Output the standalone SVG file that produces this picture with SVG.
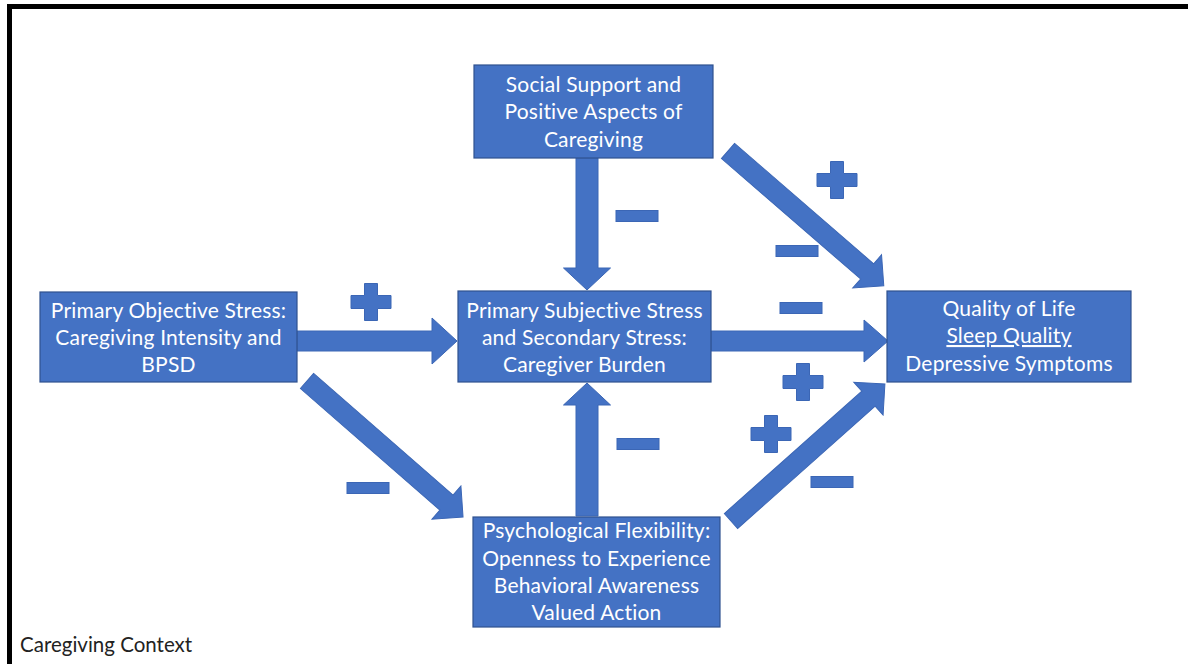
<svg xmlns="http://www.w3.org/2000/svg" width="1188" height="664" viewBox="0 0 1188 664">
  <style>
    .box { fill: #4472C4; stroke: #2F528F; stroke-width: 1.2; }
    .arrow { fill: #4472C4; stroke: #3B66B5; stroke-width: 1; }
    .sign { fill: #4472C4; stroke: #3B66B5; stroke-width: 1; }
    .lbl { font-family: Lato, "Open Sans", "Liberation Sans", sans-serif; font-size: 21px; letter-spacing: 0.2px; fill: #FFFFFF; text-anchor: middle; font-variant-ligatures: none; }
    .ctx { font-family: Lato, "Open Sans", "Liberation Sans", sans-serif; font-size: 20.5px; fill: #222222; font-variant-ligatures: none; }
  </style>
  <defs>
    <!-- plus and minus signs, centred on the origin -->
    <path id="plus" d="M-6.5,-18.5 H6.5 V-6.5 H20 V6.5 H6.5 V18.5 H-6.5 V6.5 H-20 V-6.5 H-6.5 Z"/>
    <rect id="minus" x="-21" y="-5.5" width="42" height="11"/>
  </defs>

  <rect width="1188" height="664" fill="#FFFFFF"/>
  <!-- context frame -->
  <path d="M9.5,680 V6.5 H1200" fill="none" stroke="#000000" stroke-width="5"/>
  <text class="ctx" x="20" y="652">Caregiving Context</text>

  <g id="connectors">
    <!-- Social Support -> Subjective Stress -->
    <polygon class="arrow" points="576,158 598,158 598,268 610.5,268 587,290 563.5,268 576,268"/>
    <!-- Psychological Flexibility -> Subjective Stress -->
    <polygon class="arrow" points="576,516 598,516 598,405 610.5,405 587,383 563.5,405 576,405"/>
    <!-- Objective Stress -> Subjective Stress -->
    <polygon class="arrow" points="297,331 432,331 432,318 457,341 432,364 432,351 297,351"/>
    <!-- Subjective Stress -> Quality of Life -->
    <polygon class="arrow" points="711,331 864,331 864,320 888,341 864,362 864,351 711,351"/>
    <!-- Social Support -> Quality of Life -->
    <polygon class="arrow" transform="translate(728,151) rotate(40.87)" points="0,-10 184,-10 184,-22 206,0 184,22 184,10 0,10"/>
    <!-- Objective Stress -> Psychological Flexibility -->
    <polygon class="arrow" transform="translate(307,381) rotate(41.08)" points="0,-10 185,-10 185,-22 207,0 185,22 185,10 0,10"/>
    <!-- Psychological Flexibility -> Quality of Life -->
    <polygon class="arrow" transform="translate(731,521) rotate(-41.66)" points="0,-10 184,-10 184,-22 206,0 184,22 184,10 0,10"/>
  </g>

  <g id="signs">
    <use href="#plus" class="sign" x="371" y="302"/>
    <use href="#minus" class="sign" x="637" y="216"/>
    <use href="#plus" class="sign" x="837" y="180"/>
    <use href="#minus" class="sign" x="797" y="251"/>
    <use href="#minus" class="sign" x="801" y="308"/>
    <use href="#plus" class="sign" x="803" y="382"/>
    <use href="#plus" class="sign" x="771" y="434"/>
    <use href="#minus" class="sign" x="832" y="482"/>
    <use href="#minus" class="sign" x="368" y="488"/>
    <use href="#minus" class="sign" x="638" y="444"/>
  </g>

  <g id="social-support">
    <rect class="box" x="474" y="65" width="239" height="93"/>
    <text class="lbl" x="593.5" y="92">Social Support and</text>
    <text class="lbl" x="593.5" y="119">Positive Aspects of</text>
    <text class="lbl" x="593.5" y="147">Caregiving</text>
  </g>

  <g id="objective-stress">
    <rect class="box" x="40" y="292" width="257" height="90"/>
    <text class="lbl" x="168.5" y="318">Primary Objective Stress:</text>
    <text class="lbl" x="168.5" y="345">Caregiving Intensity and</text>
    <text class="lbl" x="168.5" y="372">BPSD</text>
  </g>

  <g id="subjective-stress">
    <rect class="box" x="458" y="291" width="253" height="91"/>
    <text class="lbl" x="584.5" y="318">Primary Subjective Stress</text>
    <text class="lbl" x="584.5" y="345">and Secondary Stress:</text>
    <text class="lbl" x="584.5" y="372">Caregiver Burden</text>
  </g>

  <g id="outcomes">
    <rect class="box" x="887" y="291" width="244" height="91"/>
    <text class="lbl" x="1009" y="316">Quality of Life</text>
    <text class="lbl" x="1009" y="343" text-decoration="underline">Sleep Quality</text>
    <text class="lbl" x="1009" y="371">Depressive Symptoms</text>
  </g>

  <g id="psychological-flexibility">
    <rect class="box" x="473" y="517" width="247" height="110"/>
    <text class="lbl" x="596.5" y="538">Psychological Flexibility:</text>
    <text class="lbl" x="596.5" y="566">Openness to Experience</text>
    <text class="lbl" x="596.5" y="593">Behavioral Awareness</text>
    <text class="lbl" x="596.5" y="620">Valued Action</text>
  </g>
</svg>
